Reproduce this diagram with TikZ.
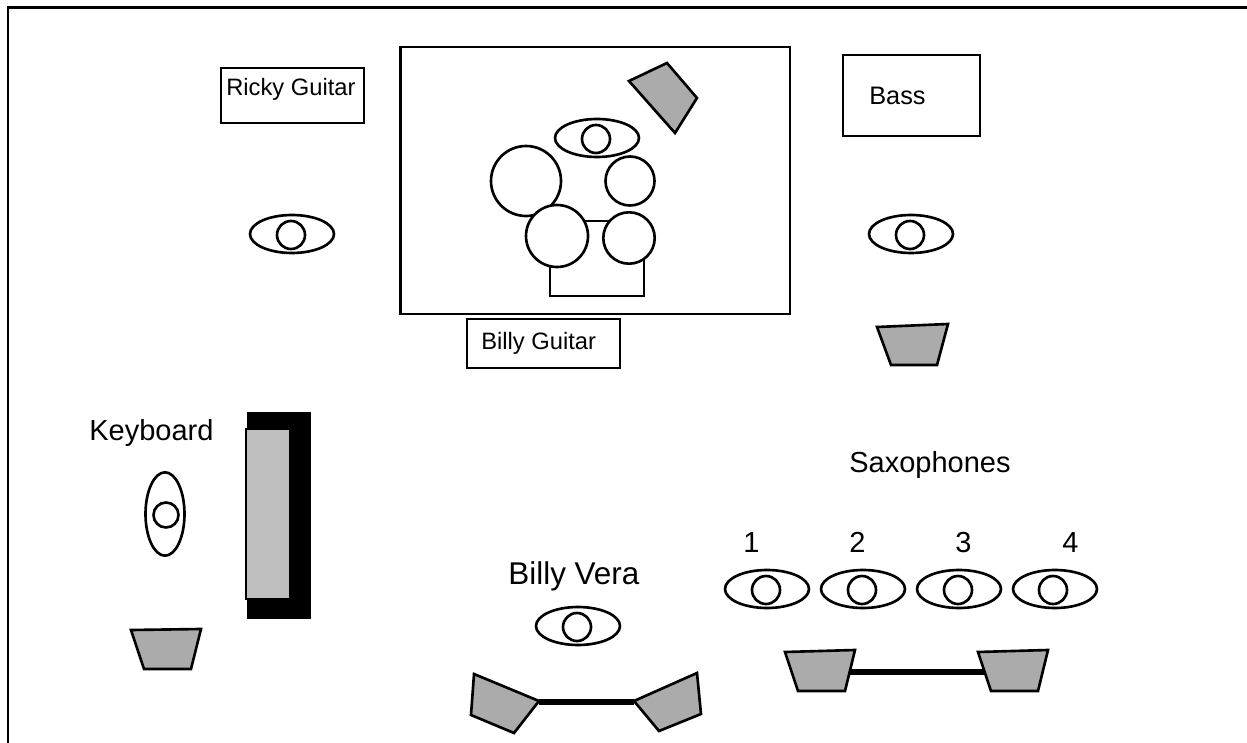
\documentclass[tikz,border=0pt]{standalone}
\usepackage{fontspec}
\setmainfont{Liberation Sans}
\usepackage{xcolor}
\definecolor{mygray}{gray}{.67}
\definecolor{mylight}{gray}{.75}
\tikzstyle{outline} = [color=black,line width=1.5pt]
\tikzstyle{person} = [outline,fill=white]
\tikzstyle{wedge} = [outline,fill=mygray,line join=miter]
\tikzstyle{cable} = [color=black,line width=3.2pt]
\tikzstyle{smalltext} = [anchor=base west,inner sep=0pt,font=\fontsize{13.5}{16}\selectfont]
\tikzstyle{bigtext} = [anchor=base west,inner sep=0pt,font=\fontsize{16.5}{20}\selectfont]

\begin{document}
\begin{tikzpicture}[x=0.02cm,y=-0.02cm]
            \useasboundingbox (0,0) rectangle (1247,743);
            % frame, only left and top
            \draw [outline] (8,743) -- (8,7.5) -- (1247,7.5);
            % drums
            \draw [outline] (400.5,47) rectangle (790,314);
            \draw [outline] (550,221) rectangle (644,296);
            \draw [person] (526,181) circle (35);
            \draw [person] (630,181) circle (24.5);
            \draw [person] (557,236) circle (31);
            \draw [person] (629,238) circle (25.7);
            \draw [person] (597,138) ellipse (42 and 19);
            \draw [person] (596,139) circle (14);
            \draw [wedge] (667,63) -- (697,98) -- (675,133) -- (629,81) -- cycle;
            % guitars and bass
            \draw [outline] (221,68) rectangle (364,123);
            \node [smalltext] (ricky) at (226,96) {Ricky Guitar};
            \draw [person] (292,234) ellipse (42 and 19);
            \draw [person] (291,235) circle (14);
            \draw [outline] (467,319) rectangle (620,368);
            \node [smalltext] (billyguitar) at (481,349) {Billy Guitar};
            \draw [outline] (843,55) rectangle (980,136);
            \node [smalltext] (bass) at (869,105) {\fontsize{14.4}{16}\selectfont Bass};
            \draw [person] (911,234) ellipse (42 and 19);
            \draw [person] (910,235) circle (14);
            \draw [wedge] (877,327) -- (948,324) -- (937,365) -- (891,365) -- cycle;
            % keyboard
            \fill [black] (247,412) rectangle (311,619);
            \draw [outline,fill=mylight] (246,429) rectangle (290,599);
            \node [bigtext] (keyboard) at (89,440) {Keyboard};
            \draw [person] (165,514) ellipse (19.5 and 41.7);
            \draw [person] (166,515) circle (12.5);
            \draw [wedge] (131,630) -- (201,629) -- (191,669) -- (144,669) -- cycle;
            % Billy Vera
            \node [bigtext] (vera) at (508,584) {\fontsize{17.9}{20}\selectfont Billy Vera};
            \draw [person] (578,626) ellipse (42 and 19);
            \draw [person] (577,627) circle (14);
            \coordinate (veraL) at (539,702);
            \coordinate (veraR) at (634,702);
            \draw [cable] (veraL) -- (veraR);
            \draw [wedge] (474,674) -- (539,701) -- (514,733) -- (471,715) -- cycle;
            \draw [wedge] (634,701) -- (697,673) -- (701,714) -- (659,731) -- cycle;
            % saxophones
            \node [bigtext] (saxes) at (849,472) {Saxophones};
            \node [bigtext] (sax1) at (743,552) {1};
            \node [bigtext] (sax2) at (849,552) {2};
            \node [bigtext] (sax3) at (955,552) {3};
            \node [bigtext] (sax4) at (1062,552) {4};
            \draw [person] (767,589) ellipse (42 and 19);
            \draw [person] (766,590) circle (14);
            \draw [person] (863,589) ellipse (42 and 19);
            \draw [person] (862,590) circle (14);
            \draw [person] (959,589) ellipse (42 and 19);
            \draw [person] (958,590) circle (14);
            \draw [person] (1055,589) ellipse (42 and 19);
            \draw [person] (1053,590) circle (14);
            \coordinate (saxL) at (848,672);
            \coordinate (saxR) at (985,672);
            \draw [cable] (saxL) -- (saxR);
            \draw [wedge] (785,652) -- (855,650) -- (845,691) -- (798,691) -- cycle;
            \draw [wedge] (978,652) -- (1048,650) -- (1038,691) -- (991,691) -- cycle;
        \end{tikzpicture}
\end{document}
